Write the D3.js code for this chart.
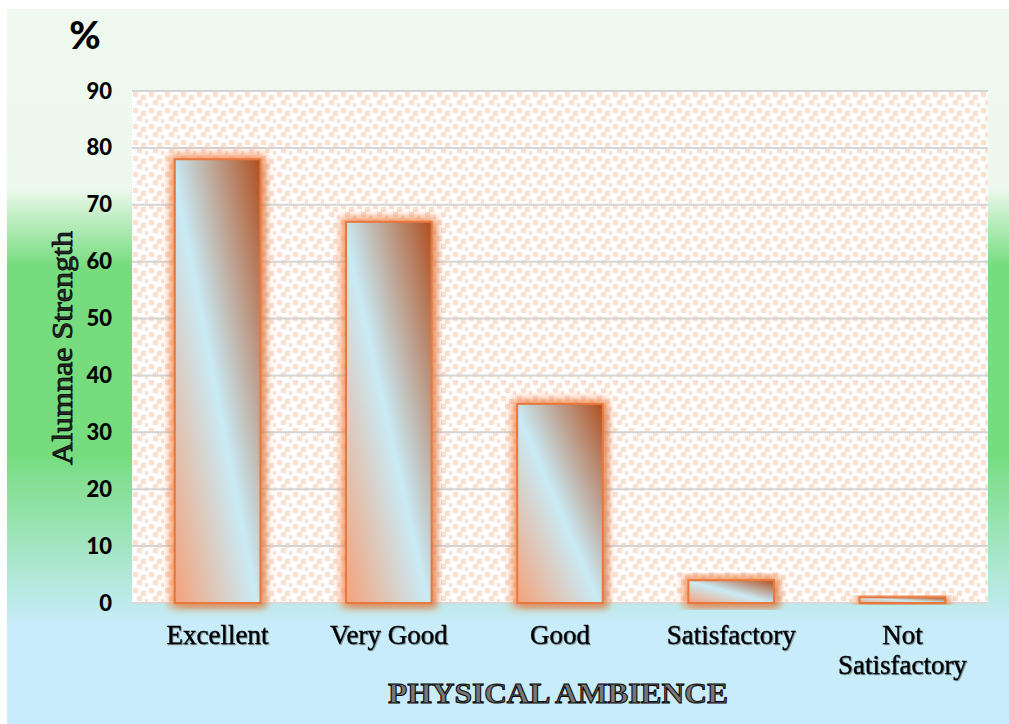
<!DOCTYPE html>
<html>
<head>
<meta charset="utf-8">
<script src="https://cdn.jsdelivr.net/npm/d3@7"></script>
<style>
  html, body { margin: 0; padding: 0; background: #fff; }
  svg { display: block; }
</style>
</head>
<body>
<div id="chart"></div>
<script>
// data
var categories = ["Excellent", "Very Good", "Good", "Satisfactory", "Not Satisfactory"];
var values = [78, 67, 35, 4, 1];
var yTicks = [0, 10, 20, 30, 40, 50, 60, 70, 80, 90];

var W = 1009, H = 724;
var margin = {top: 91, right: 21, bottom: 121, left: 132};
var width = W - margin.left - margin.right,
    height = H - margin.top - margin.bottom;

var svg = d3.select("#chart").append("svg")
  .attr("width", W)
  .attr("height", H);

var defs = svg.append("defs");

// page background gradient (green band, blue bottom)
var bg = defs.append("linearGradient")
  .attr("id", "bgGrad")
  .attr("x1", 0).attr("y1", 0).attr("x2", 0).attr("y2", 1);
[[0, "#eff9ef"], [0.25, "#eef9ee"], [0.36, "#76dc7e"], [0.62, "#76dc7e"], [0.86, "#c8ecfa"], [1, "#c8ecfa"]]
  .forEach(function(s) { bg.append("stop").attr("offset", s[0]).attr("stop-color", s[1]); });

// plot area dotted pattern
var pat = defs.append("pattern")
  .attr("id", "dots")
  .attr("patternUnits", "userSpaceOnUse")
  .attr("width", 16).attr("height", 16);
pat.append("rect").attr("width", 16).attr("height", 16).attr("fill", "#ffffff");
[[1, 1], [9, 4], [5, 9], [13, 12]].forEach(function(p) {
  pat.append("rect")
    .attr("x", p[0]).attr("y", p[1])
    .attr("width", 5).attr("height", 5)
    .attr("fill", "#fcdfcf");
});

// bar gradient
var bar = defs.append("linearGradient")
  .attr("id", "barGrad")
  .attr("x1", 0).attr("y1", 1).attr("x2", 1).attr("y2", 0);
[[0, "#f4a27a"], [0.48, "#c9ebf6"], [1, "#b04f1f"]]
  .forEach(function(s) { bar.append("stop").attr("offset", s[0]).attr("stop-color", s[1]); });

// orange glow around bars
var glow = defs.append("filter").attr("id", "glow")
  .attr("x", "-30%").attr("y", "-30%").attr("width", "160%").attr("height", "160%");
glow.append("feMorphology").attr("in", "SourceAlpha").attr("operator", "dilate").attr("radius", 4).attr("result", "fat");
glow.append("feFlood").attr("flood-color", "#f08548").attr("flood-opacity", 0.85);
glow.append("feComposite").attr("in2", "fat").attr("operator", "in");
glow.append("feGaussianBlur").attr("stdDeviation", 4).attr("result", "halo");
glow.append("feOffset").attr("in", "SourceAlpha").attr("dx", 4).attr("dy", 3).attr("result", "off");
glow.append("feGaussianBlur").attr("in", "off").attr("stdDeviation", 3).attr("result", "sh");
glow.append("feComponentTransfer").attr("in", "sh").attr("result", "shadow")
  .append("feFuncA").attr("type", "linear").attr("slope", 0.35);
var gm = glow.append("feMerge");
gm.append("feMergeNode").attr("in", "shadow");
gm.append("feMergeNode").attr("in", "halo");
gm.append("feMergeNode").attr("in", "SourceGraphic");

// text shadow
var ts = defs.append("filter").attr("id", "tshadow");
ts.append("feDropShadow").attr("dx", 1).attr("dy", 1).attr("stdDeviation", 0.6)
  .attr("flood-color", "#000").attr("flood-opacity", 0.35);

svg.append("rect")
  .attr("x", 7).attr("y", 9)
  .attr("width", W - 7).attr("height", H - 9)
  .attr("fill", "url(#bgGrad)");

var g = svg.append("g")
  .attr("transform", "translate(" + margin.left + "," + margin.top + ")");

var x = d3.scaleBand()
  .domain(categories)
  .range([0, width])
  .paddingInner(0.5)
  .paddingOuter(0.25);

var y = d3.scaleLinear()
  .domain([0, 90])
  .range([height, 0]);

g.append("rect")
  .attr("width", width).attr("height", height)
  .attr("fill", "url(#dots)");

// gridlines
g.append("g")
  .selectAll("line")
  .data(yTicks.slice(1))
  .join("line")
  .attr("x1", 0).attr("x2", width)
  .attr("y1", function(d) { return y(d); })
  .attr("y2", function(d) { return y(d); })
  .attr("stroke", "#d4d4d4")
  .attr("stroke-width", 2);

// y axis labels
var yAxis = g.append("g")
  .attr("transform", "translate(-20,0)")
  .call(d3.axisLeft(y).tickValues(yTicks).tickSize(0).tickPadding(0));
yAxis.select(".domain").remove();
yAxis.selectAll("text")
  .attr("font-family", "Lato, 'DejaVu Sans', sans-serif")
  .attr("font-weight", "900")
  .attr("font-size", 22)
  .attr("fill", "#000");

// baseline
g.append("line")
  .attr("x1", 0).attr("x2", width)
  .attr("y1", height).attr("y2", height)
  .attr("stroke", "#d9d9d9")
  .attr("stroke-width", 2);

// bars
g.append("g")
  .selectAll("rect")
  .data(values)
  .join("rect")
  .attr("x", function(d, i) { return x(categories[i]); })
  .attr("y", function(d) { return y(d); })
  .attr("width", x.bandwidth())
  .attr("height", function(d) { return height - y(d); })
  .attr("fill", "url(#barGrad)")
  .attr("stroke", "#e8783c")
  .attr("stroke-width", 2)
  .attr("filter", "url(#glow)");

// category labels
var xl = g.append("g")
  .selectAll("text")
  .data(categories)
  .join("text")
  .attr("x", function(d) { return x(d) + x.bandwidth() / 2; })
  .attr("y", height + 41)
  .attr("text-anchor", "middle")
  .attr("font-family", "'Liberation Serif', 'Times New Roman', serif")
  .attr("font-size", 27)
  .attr("fill", "#000")
  .attr("stroke", "#000")
  .attr("stroke-width", 0.4)
  .attr("filter", "url(#tshadow)");
xl.each(function(d) {
  var t = d3.select(this);
  var words = d === "Not Satisfactory" ? ["Not", "Satisfactory"] : [d];
  words.forEach(function(w, k) {
    t.append("tspan")
      .attr("x", x(d) + x.bandwidth() / 2)
      .attr("dy", k === 0 ? 0 : 30)
      .text(w);
  });
});

// y title
svg.append("text")
  .attr("transform", "translate(72,348) rotate(-90)")
  .attr("text-anchor", "middle")
  .attr("font-family", "'Liberation Serif', 'Times New Roman', serif")
  .attr("font-size", 29)
  .attr("textLength", 234)
  .attr("lengthAdjust", "spacingAndGlyphs")
  .attr("fill", "#2a2a2a")
  .attr("stroke", "#000")
  .attr("stroke-width", 0.8)
  .text("Alumnae Strength");

// x title
svg.append("text")
  .attr("x", 558).attr("y", 703)
  .attr("text-anchor", "middle")
  .attr("font-family", "'Liberation Serif', 'Times New Roman', serif")
  .attr("font-weight", "bold")
  .attr("font-size", 30)
  .attr("textLength", 340)
  .attr("lengthAdjust", "spacingAndGlyphs")
  .attr("fill", "#777")
  .attr("stroke", "#000")
  .attr("stroke-width", 1)
  .text("PHYSICAL AMBIENCE");

// unit mark
svg.append("text")
  .attr("x", 85).attr("y", 49)
  .attr("text-anchor", "middle")
  .attr("font-family", "Lato, 'DejaVu Sans', sans-serif")
  .attr("font-weight", "900")
  .attr("font-size", 38)
  .attr("fill", "#000")
  .text("%");
</script>
</body>
</html>
